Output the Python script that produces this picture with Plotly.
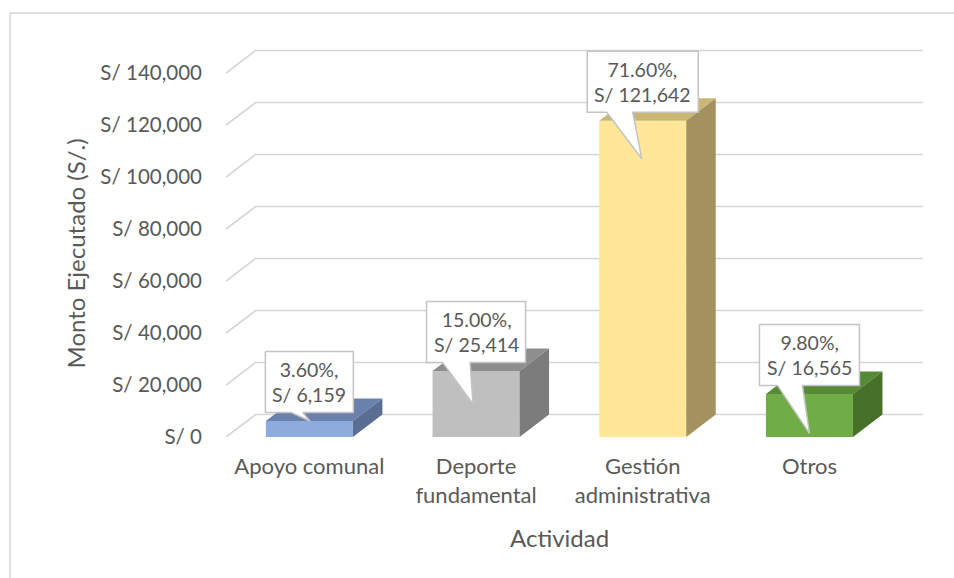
import plotly.graph_objects as go

# ---- data ----
categorias = ["Apoyo comunal", "Deporte<br>fundamental", "Gestión<br>administrativa", "Otros"]
montos = [6159, 25414, 121642, 16565]
porcentajes = [3.60, 15.00, 71.60, 9.80]
y_ticks = [0, 20000, 40000, 60000, 80000, 100000, 120000, 140000]
y_ticktext = [f"S/ {t:,}" for t in y_ticks]

# ---- styles ----
color_frente = ["#8FAADC", "#BFBFBF", "#FFE699", "#70AD47"]
color_techo = ["#6A81AE", "#8E8E8E", "#CBB774", "#578A37"]
color_lado = ["#5A6D93", "#7C7C7C", "#A39260", "#477129"]
TEXT = "#595959"
GRID = "#D6D6D6"
FONT = "Lato"

# ---- geometry (pixels) ----
W, H = 954, 578
ML, MR, MT, MB = 226, 31, 30, 141
PW, PH = W - ML - MR, H - MT - MB
CAT_PX = 166.7                 # width of one category slot
UNIT_PX = 52 / 20000           # pixels per sol
DEPTH_DX, DEPTH_DY = 29.5, 22.5  # 3-D depth offset
BAR_W = 87 / CAT_PX

x_max = PW / CAT_PX
y_max = PH / UNIT_PX
ddx = DEPTH_DX / CAT_PX
ddy = DEPTH_DY / UNIT_PX


def dx(px):
    return px / CAT_PX


def dy(px):
    # screen pixels (downwards) -> data units (upwards)
    return -px / UNIT_PX


x_pos = [i + 0.5 for i in range(len(categorias))]

fig = go.Figure()

# front faces of the columns
fig.add_trace(go.Bar(
    x=x_pos, y=montos, width=BAR_W,
    marker=dict(color=color_frente, line=dict(width=0)),
    hoverinfo="skip", showlegend=False,
))

# top and side faces
for xc, v, ct, cl in zip(x_pos, montos, color_techo, color_lado):
    x0, x1 = xc - BAR_W / 2, xc + BAR_W / 2
    fig.add_trace(go.Scatter(
        x=[x0, x1, x1 + ddx, x0 + ddx, x0],
        y=[v, v, v + ddy, v + ddy, v],
        mode="lines", fill="toself", fillcolor=ct,
        line=dict(width=0, color=ct), hoverinfo="skip", showlegend=False,
    ))
    fig.add_trace(go.Scatter(
        x=[x1, x1 + ddx, x1 + ddx, x1, x1],
        y=[0, ddy, v + ddy, v, 0],
        mode="lines", fill="toself", fillcolor=cl,
        line=dict(width=0, color=cl), hoverinfo="skip", showlegend=False,
    ))

# callout data labels (pixel offsets relative to the column's front-top centre)
box_w = [88, 99, 111, 100]
box_h = 61
box_dy = -39
ptr_base = [(-18, -6.5), (-33.5, -6), (-36, -10), (-32, -7)]
ptr_tip = [(0.5, 0), (-3, 33), (-1, 38), (0, 39.5)]

for i, (xc, v, p) in enumerate(zip(x_pos, montos, porcentajes)):
    cy = v + dy(box_dy)
    hw, hh = box_w[i] / 2, box_h / 2
    b0, b1 = ptr_base[i]
    tx, ty = ptr_tip[i]
    pts = [(-hw, -hh), (hw, -hh), (hw, hh), (b1, hh)]
    xs = [xc + dx(a) for a, _ in pts] + [xc + dx(tx)]
    ys = [cy + dy(b) for _, b in pts] + [v + dy(ty)]
    for a, b in [(b0, hh), (-hw, hh), (-hw, -hh)]:
        xs.append(xc + dx(a))
        ys.append(cy + dy(b))
    fig.add_trace(go.Scatter(
        x=xs, y=ys, mode="lines", fill="toself", fillcolor="white",
        line=dict(width=1.5, color="#C4C4C4"), hoverinfo="skip", showlegend=False,
    ))
    fig.add_annotation(
        x=xc, y=cy, xref="x", yref="y", showarrow=False,
        text=f"{p:.2f}%,<br>S/ {v:,}",
        font=dict(family=FONT, size=19.5, color=TEXT),
        xanchor="center", yanchor="middle",
    )

# gridlines: slanted piece on the side wall plus the back wall line
shapes = []
for t in y_ticks:
    shapes.append(dict(
        type="path", xref="x", yref="y", layer="below",
        path=f"M 0,{t} L {ddx},{t + ddy} L {x_max},{t + ddy}",
        line=dict(color=GRID, width=1.7),
    ))

# chart area border
shapes.append(dict(
    type="rect", xref="paper", yref="paper", layer="below",
    x0=(10 - ML) / PW, x1=(W + 10 - ML) / PW,
    y0=(MT + PH - (H + 10)) / PH, y1=(MT + PH - 13) / PH,
    line=dict(color=GRID, width=1.5), fillcolor="rgba(0,0,0,0)",
))

# axis titles
fig.add_annotation(
    x=(75 - ML) / PW, y=(MT + PH - 253.5) / PH, xref="paper", yref="paper",
    text="Monto Ejecutado (S/.)", textangle=-90, showarrow=False,
    font=dict(family=FONT, size=24, color=TEXT), xanchor="center", yanchor="middle",
)
fig.add_annotation(
    x=(559 - ML) / PW, y=(MT + PH - 537) / PH, xref="paper", yref="paper",
    text="Actividad", showarrow=False,
    font=dict(family=FONT, size=24, color=TEXT), xanchor="center", yanchor="middle",
)

fig.update_layout(
    width=W, height=H,
    margin=dict(l=ML, r=MR, t=MT, b=MB, pad=0),
    paper_bgcolor="white", plot_bgcolor="white",
    shapes=shapes, showlegend=False,
    font=dict(family=FONT, color=TEXT),
    xaxis=dict(
        range=[0, x_max], tickmode="array", tickvals=x_pos, ticktext=categorias,
        showgrid=False, zeroline=False, showline=False, ticks="",
        tickfont=dict(family=FONT, size=22, color=TEXT),
        ticklabelstandoff=14, fixedrange=True,
    ),
    yaxis=dict(
        range=[0, y_max], tickmode="array", tickvals=y_ticks, ticktext=y_ticktext,
        showgrid=False, zeroline=False, showline=False, ticks="",
        tickfont=dict(family=FONT, size=20.5, color=TEXT),
        ticklabelstandoff=23, fixedrange=True,
    ),
)

fig.write_html("out.html", config={"displayModeBar": False})
